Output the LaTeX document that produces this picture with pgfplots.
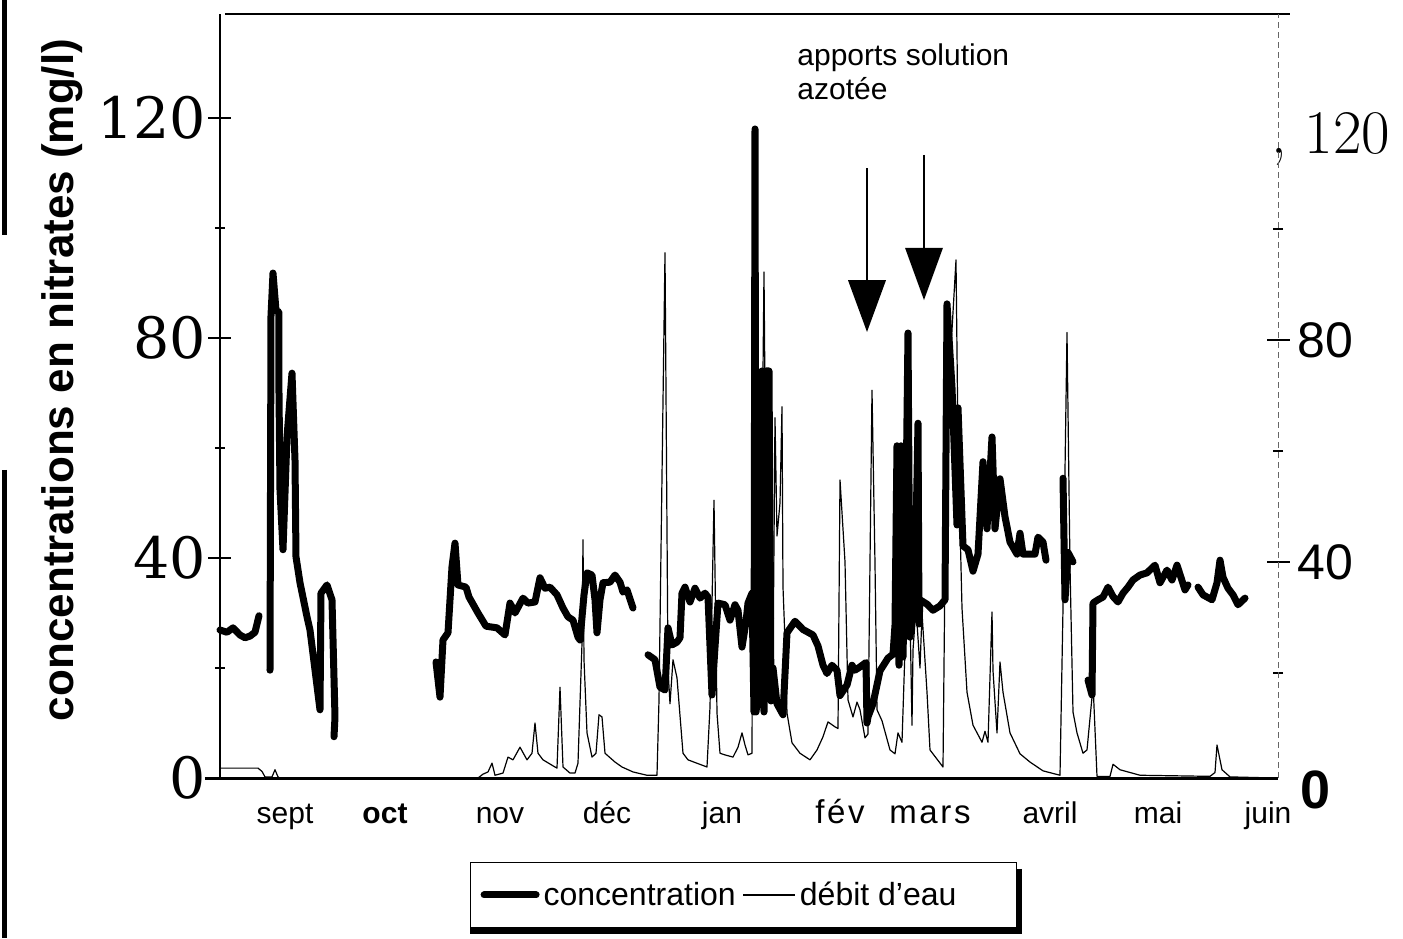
\documentclass[border=0pt]{standalone}
\usepackage{pgfplots}
\pgfplotsset{compat=1.18}
\usepackage{fontspec}
\newfontfamily\arial{Liberation Sans}
\newfontfamily\djs{DejaVu Serif}
\begin{document}
\begin{tikzpicture}
\useasboundingbox (-110pt,-80pt) rectangle (591.5pt,389pt);
\begin{axis}[
  scale only axis, width=529pt, height=382pt,
  xmin=0, xmax=1058, ymin=0, ymax=138.9,
  clip=false,
  axis line style={draw=none},
  unbounded coords=jump,
  xtick={65,165,280,387,502,620,710,830,938,1048},
  xticklabels={sept,{\bfseries oct},nov,déc,jan,{\fontsize{16.5}{18}\selectfont\addfontfeature{LetterSpace=8}fév},{\fontsize{16.5}{18}\selectfont\addfontfeature{LetterSpace=8}mars},avril,mai,juin},
  major x tick style={draw=none},
  xticklabel style={font=\arial\fontsize{15}{17}\selectfont, anchor=base, yshift=-17pt},
  ytick={0,40,80,120}, yticklabels={0,40,80,120},
  minor ytick={20,60,100},
  ytick pos=left, tick align=center,
  major tick length=11.5pt, minor tick length=5pt,
  every tick/.style={black, line width=0.75pt},
  yticklabel style={font=\djs\fontsize{28.5}{32}\selectfont, inner sep=0pt, anchor=east, xshift=-1pt},
  ylabel={concentrations en nitrates (mg/l)},
  ylabel style={font=\arial\bfseries\fontsize{22}{24}\selectfont, at={(axis description cs:-0.149,0.521)}, anchor=center},
  legend columns=2, legend cell align=left,
  legend image code/.code={\draw[#1] (0pt,0pt) -- (26pt,0pt);},
  legend style={at={(axis description cs:0.2363,-0.110)}, anchor=north west, draw=black, line width=0.6pt,
    font=\arial\fontsize{16}{18}\selectfont, inner xsep=5pt, inner ysep=7.5pt,
    /tikz/every odd column/.append style={column sep=0pt},
    /tikz/every even column/.append style={column sep=1.5pt}},
]
% axis frame
\draw[line width=1pt] (axis cs:0,0) -- (axis cs:0,138.9);
\draw[line width=1.5pt] (axis cs:-15,0) -- (axis cs:1058,0);
\draw[line width=1pt] (axis cs:5,138.9) -- (axis cs:1070,138.9);
% scan edge
\draw[line width=2.5pt] (axis cs:-215,141.5) -- (axis cs:-215,98.7);
\draw[line width=2.5pt] (axis cs:-215,56) -- (axis cs:-215,-29.1);
% legend shadow
\draw[line width=4pt] (axis cs:250,-27.6) -- (axis cs:802,-27.6);
\draw[line width=3.5pt] (axis cs:798,-16.5) -- (axis cs:798,-28.3);
% right-hand labels
\node[anchor=west, inner sep=0pt, font=\arial\bfseries\fontsize{27}{30}\selectfont] at (axis cs:1080,-2.2) {0};
\node[anchor=west, inner sep=0pt, font=\fontsize{31}{33}\selectfont] at (axis cs:1051,116.2) {,\hspace{9pt}120};

\addplot[black, line width=3.5pt, line join=round, line cap=round] table {
x y
0 26.9
7 26.5
13 27.3
20 26.0
25 25.5
30 25.8
35 26.5
39 29.5
45 nan
50 19.6
51 84
53 91.8
56 85
59 84.7
59 70
60 52.4
63 41.5
67 62
72 73.6
75 57.8
76 40.2
80 35.5
87 29.3
90 26.9
100 12.4
101 33.6
107 35.1
112 32.4
115 11.1
114 7.5
150 nan
216 21.1
220 14.7
223 25.1
228 26.4
232 38.4
235 42.7
238 35.1
246 34.7
249 32.9
258 30.0
266 27.6
277 27.3
285 26.0
290 31.8
295 30.0
303 32.7
308 31.8
315 32.0
320 36.4
325 34.5
330 34.7
337 33.3
343 30.9
348 29.3
353 28.7
358 25.6
360 25.1
364 33.3
367 37.3
372 36.9
375 32.4
377 26.4
380 32.4
383 35.5
390 35.6
395 36.9
400 35.6
403 33.8
407 34.2
413 30.9
420 nan
428 22.4
435 21.5
440 16.5
445 16.0
448 27.3
452 24.2
457 24.7
460 25.5
462 33.6
465 34.7
470 32.0
475 34.5
480 32.7
485 33.6
488 32.9
492 15.1
495 23.8
498 31.8
505 31.5
510 28.7
515 31.5
518 30.5
522 23.8
526 28.4
528 31.8
532 33.6
534 12.0
535 118.0
536 12.0
538 15.0
540 22.0
542 74.0
544 12.0
546 74.0
549 74.0
551 14.0
553 20.0
557 13.5
563 11.5
567 26.4
575 28.5
583 27.0
588 26.5
593 26.0
598 24.0
603 20.5
607 19.0
612 20.5
617 19.6
620 15.0
627 16.9
632 20.5
635 19.6
640 20.2
646 21.0
647 10.0
648 11.1
653 13.5
660 19.5
668 21.8
673 22.5
675 27.8
677 60.4
679 20.5
681 60.4
683 22.0
686 50.0
688 80.9
690 25.6
695 34.7
698 64.5
699 28.0
700 32.4
707 31.6
713 30.5
720 31.3
725 32.4
727 86.2
732 71.0
737 46.0
738 67.3
743 42.2
748 41.5
753 37.6
758 40.7
763 57.5
767 45.3
772 62.0
775 45.3
780 54.4
785 47.5
790 42.9
797 40.7
800 44.5
803 40.7
810 40.7
815 40.7
818 43.8
823 42.9
826 39.6
835 nan
843 54.5
845 32.4
848 41.0
853 39.3
860 nan
868 17.8
872 15.1
873 31.8
878 32.4
883 32.9
888 34.7
893 33.0
898 32.0
903 33.6
908 34.7
913 36.0
920 36.9
927 37.3
935 38.7
940 35.5
947 37.8
952 36.0
957 38.7
965 34.2
968 35.1
973 nan
978 34.7
983 33.3
992 32.4
997 35.5
1000 39.6
1003 36.5
1008 34.5
1013 33.3
1018 31.5
1025 32.7
};
\addlegendentry{concentration}

\addplot[black, line width=0.6pt, line join=round] table {
x y
0 1.8
38 1.8
42 1.2
45 0.2
52 0.2
55 1.5
58 0.2
60 0
258 0
263 0.7
268 1.1
272 2.7
275 0.5
283 0.9
288 3.8
293 3.3
300 5.6
307 3.3
312 4.5
315 10
318 4.5
323 3.3
335 2
337 1.8
340 16.5
343 2
350 0.9
355 0.9
358 2.7
362 24.5
363 43.3
364 21.5
367 8.2
372 3.8
376 4.5
379 11.5
382 11.1
385 4.5
395 2.9
402 2
413 1.1
427 0.5
437 0.5
439 14.2
445 95.5
448 19.8
450 13.5
453 21.5
457 18.2
463 4.5
468 3.3
487 2
490 12.9
494 50.5
497 11.8
500 4.5
505 4.2
513 3.8
518 5.6
522 8.2
525 6
528 4.2
532 4.5
534 104
537 30
540 20
544 92
547 25
550 35
553 20
555 65.5
557 44
560 50
562 67.5
563 34.7
565 25
567 11.8
572 6.4
580 4.5
590 3.3
597 5.1
603 7.5
608 10.2
615 9.3
618 9
620 54.2
625 39.3
628 14.2
633 11.1
637 13.8
640 12.4
645 7.3
648 8
652 70.5
655 39
657 12.4
662 10.4
670 5.1
675 4.4
678 8.2
682 6.5
685 23.3
688 50
692 9.6
693 23.3
696 30.9
700 20
702 30
707 15.6
710 5.1
723 2
725 38.4
728 68.7
736 94.2
738 61
742 30.9
747 15.6
753 9.6
762 6.5
765 8.5
768 6.5
772 30.2
773 19.5
777 8.2
780 21.1
783 15.6
790 8.2
800 4.4
810 2.9
823 1.3
840 0.5
843 30.9
847 81
850 38.4
853 12
857 8.2
863 4.5
867 5.1
872 14.7
873 17.3
877 0.3
890 0.3
893 2.5
900 1.5
920 0.5
990 0.3
995 1
997 6
1002 1.5
1010 0.2
1055 0
};
\addlegendentry{débit d’eau\rule{23pt}{0pt}}

% annotation
\node[anchor=north west, align=left, inner sep=0pt, font=\arial\fontsize{15}{17}\selectfont] at (axis cs:577,133.5) {apports solution\\azotée};
\draw[line width=0.8pt] (axis cs:647,110.9) -- (axis cs:647,90.5);
\fill (axis cs:628,90.5) -- (axis cs:666,90.5) -- (axis cs:647,81.1) -- cycle;
\draw[line width=0.8pt] (axis cs:704,113.3) -- (axis cs:704,96.4);
\fill (axis cs:685,96.4) -- (axis cs:723,96.4) -- (axis cs:704,86.9) -- cycle;
\end{axis}

\begin{axis}[
  scale only axis, width=529pt, height=382pt,
  xmin=0, xmax=1058, ymin=1.08, ymax=138.7,
  axis x line=none, axis y line*=right,
  y axis line style={line width=0.5pt, black!60, densely dashed},
  ytick={40,80}, yticklabels={40,80},
  minor ytick={20,60,100},
  tick align=center,
  major tick length=11.5pt, minor tick length=5pt,
  every tick/.style={black, line width=0.75pt, solid},
  yticklabel style={font=\arial\fontsize{25}{28}\selectfont, inner sep=0pt, anchor=west, xshift=4pt},
]
\addplot[draw=none] coordinates {(0,20)};
\end{axis}
\end{tikzpicture}
\end{document}
